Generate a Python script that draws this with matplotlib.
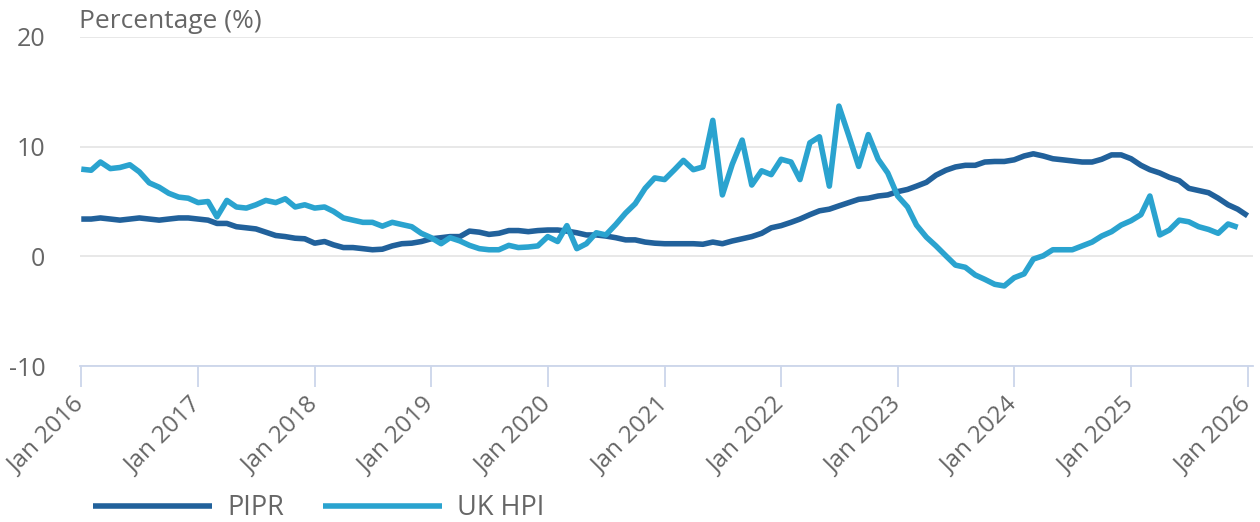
import numpy as np
import pandas as pd
import matplotlib
matplotlib.use("Agg")
import matplotlib.pyplot as plt
import matplotlib.dates as mdates

plt.rcParams['font.family'] = ['Open Sans', 'DejaVu Sans']
plt.rcParams['axes.unicode_minus'] = False

# DATA (monthly, Jan 2016 onwards)
months = pd.date_range('2016-01-01', periods=121, freq='MS')

pipr = [3.4, 3.4, 3.5, 3.4, 3.3, 3.4, 3.5, 3.4, 3.3, 3.4, 3.5, 3.5,
        3.4, 3.3, 3.0, 3.0, 2.7, 2.6, 2.5, 2.2, 1.9, 1.8, 1.65, 1.6,
        1.2, 1.35, 1.05, 0.8, 0.8, 0.7, 0.6, 0.65, 0.95, 1.15, 1.2, 1.35,
        1.6, 1.7, 1.8, 1.8, 2.3, 2.2, 2.0, 2.1, 2.35, 2.35, 2.25, 2.35,
        2.4, 2.4, 2.3, 2.15, 1.95, 1.95, 1.85, 1.7, 1.5, 1.5, 1.3, 1.2,
        1.15, 1.15, 1.15, 1.15, 1.1, 1.3, 1.15, 1.4, 1.6, 1.8, 2.1, 2.6,
        2.8, 3.1, 3.4, 3.8, 4.15, 4.3, 4.6, 4.9, 5.2, 5.3, 5.5, 5.6,
        5.9, 6.1, 6.4, 6.75, 7.4, 7.85, 8.15, 8.3, 8.3, 8.6, 8.65, 8.65,
        8.8, 9.15, 9.35, 9.15, 8.9, 8.8, 8.7, 8.6, 8.6, 8.85, 9.25, 9.25,
        8.9, 8.3, 7.9, 7.6, 7.2, 6.9, 6.2, 6.0, 5.8, 5.3, 4.7, 4.3,
        3.7]

uk_hpi = [7.95, 7.85, 8.6, 8.0, 8.1, 8.35, 7.7, 6.7, 6.3, 5.75, 5.4, 5.3,
          4.9, 5.0, 3.6, 5.1, 4.5, 4.4, 4.7, 5.1, 4.9, 5.25, 4.5, 4.7,
          4.4, 4.5, 4.1, 3.5, 3.3, 3.1, 3.1, 2.75, 3.1, 2.9, 2.7, 2.1,
          1.7, 1.15, 1.7, 1.4, 1.0, 0.7, 0.6, 0.6, 1.0, 0.8, 0.85, 0.95,
          1.8, 1.35, 2.8, 0.7, 1.15, 2.15, 1.95, 2.9, 3.95, 4.8, 6.2, 7.15,
          7.0, 7.9, 8.75, 7.9, 8.15, 12.4, 5.6, 8.4, 10.6, 6.5, 7.8, 7.45,
          8.85, 8.6, 7.0, 10.35, 10.9, 6.4, 13.7, 11.0, 8.2, 11.1, 8.85, 7.6,
          5.5, 4.5, 2.85, 1.75, 0.95, 0.05, -0.8, -1.0, -1.7, -2.1, -2.55, -2.7,
          -1.95, -1.6, -0.25, 0.05, 0.6, 0.6, 0.6, 0.95, 1.3, 1.85, 2.25, 2.85,
          3.25, 3.8, 5.5, 1.95, 2.4, 3.3, 3.15, 2.7, 2.45, 2.1, 2.95, 2.65]

y_ticks = [-10, 0, 10, 20]
series_names = ['PIPR', 'UK HPI']
series_colors = ['#21619b', '#2aa3cf']
text_grey = '#666666'

# FIGURE
fig = plt.figure(figsize=(12.6, 5.22), dpi=100)
ax = fig.add_axes([80 / 1260, 1 - 366 / 522, (1253 - 80) / 1260, (366 - 37) / 522])

ax.plot(months, pipr, color=series_colors[0], lw=4.0, label=series_names[0],
        solid_joinstyle='round', solid_capstyle='butt', zorder=3)
ax.plot(months[:len(uk_hpi)], uk_hpi, color=series_colors[1], lw=4.0, label=series_names[1],
        solid_joinstyle='round', solid_capstyle='butt', zorder=3)

ax.set_ylim(-10, 20)
ax.set_yticks(y_ticks)
ax.set_xlim(months[0] - pd.Timedelta(days=4), months[-1] + pd.Timedelta(days=17))

ax.grid(axis='y', color='#e6e6e6', lw=1.3)
ax.set_axisbelow(True)
for side in ['top', 'right', 'left']:
    ax.spines[side].set_visible(False)
ax.spines['bottom'].set_color('#ccd6eb')
ax.spines['bottom'].set_linewidth(1.3)
ax.spines['bottom'].set_zorder(1)

ax.xaxis.set_major_locator(mdates.YearLocator(1, month=1, day=1))
ax.xaxis.set_major_formatter(mdates.DateFormatter('%b %Y'))
ax.tick_params(axis='x', length=15, width=1.3, color='#ccd6eb', pad=10,
               labelsize=17.5, labelcolor=text_grey)
for lab in ax.get_xticklabels():
    lab.set_rotation(45)
    lab.set_ha('right')
    lab.set_va('center')
    lab.set_rotation_mode('anchor')
ax.tick_params(axis='y', length=0, pad=25, labelsize=18, labelcolor=text_grey)

fig.text(79 / 1260, 1 - 22 / 522, 'Percentage (%)', fontsize=19, color=text_grey,
         ha='left', va='center')

fig.legend(loc='center left', bbox_to_anchor=(93 / 1260, 1 - 508 / 522), ncol=2,
           frameon=False, fontsize=19.5, labelcolor=text_grey, handlelength=4.4,
           handletextpad=0.55, columnspacing=1.45, borderaxespad=0, borderpad=0)

fig.savefig('out.png', dpi=100)
